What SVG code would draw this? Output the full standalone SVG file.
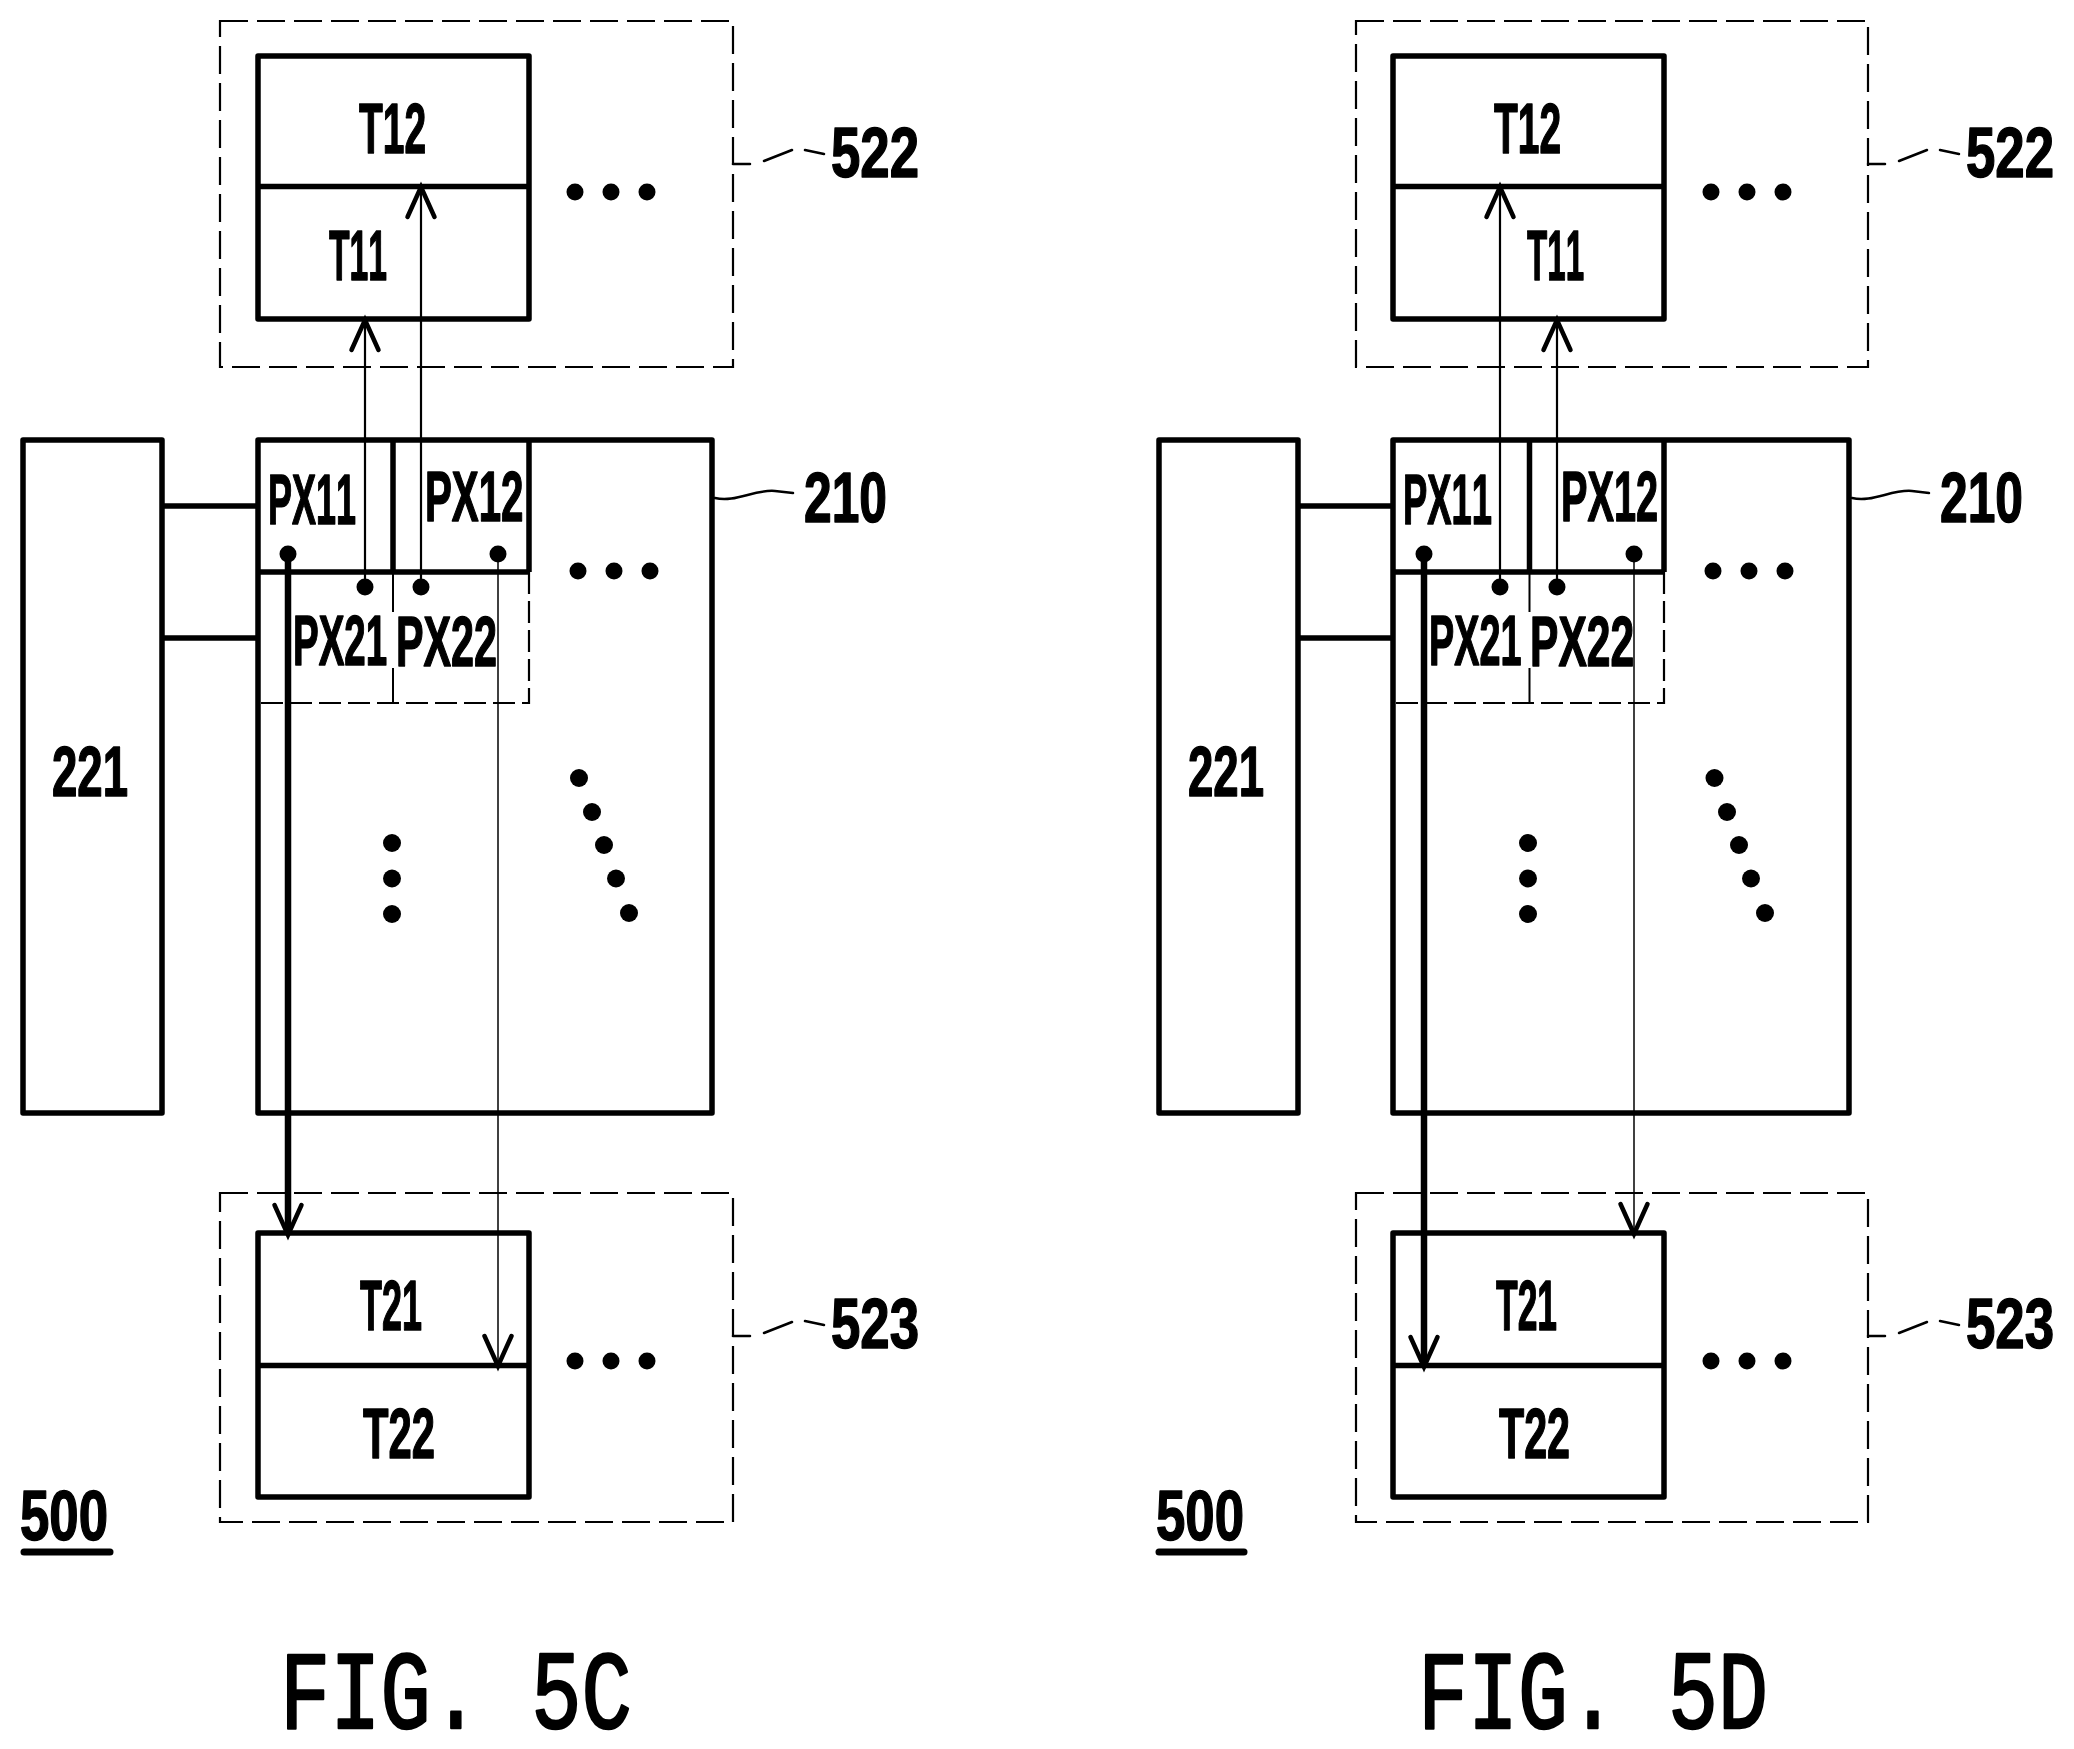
<svg xmlns="http://www.w3.org/2000/svg" width="2074" height="1749" viewBox="0 0 2074 1749">
<style>
.b{fill:none;stroke:#000;stroke-width:5.500;stroke-linejoin:round;stroke-linecap:round}
.w{fill:none;stroke:#000;stroke-width:5.500}
.d{fill:none;stroke:#000;stroke-width:2.200;stroke-dasharray:28 9}
.d2{fill:none;stroke:#000;stroke-width:2.200;stroke-dasharray:22 7}
.t{fill:none;stroke:#000;stroke-width:2}
.l{fill:none;stroke:#000;stroke-width:2.500;stroke-linecap:round}
.thin{fill:none;stroke:#000;stroke-width:2.200;marker-end:url(#a)}
.hair{fill:none;stroke:#000;stroke-width:1.500;marker-end:url(#a)}
.thick{fill:none;stroke:#000;stroke-width:6.500;marker-end:url(#a)}
text{font-family:"Liberation Sans",Arial,sans-serif;font-weight:700;font-size:70px;font-kerning:none;fill:#000;stroke:#000;stroke-width:1.500;stroke-linejoin:round}
.f{font-family:"Liberation Mono","Courier New",monospace;font-weight:400;font-size:112px;stroke-width:2.500}
</style>
<defs>
<marker id="a" markerUnits="userSpaceOnUse" markerWidth="40" markerHeight="36" refX="33" refY="18" orient="auto" overflow="visible"><path d="M3 4.500 L33 18 L3 31.500" fill="none" stroke="#000" stroke-width="4.500" stroke-linecap="round" stroke-linejoin="miter"/></marker>
<g id="v3"><circle cx="0" cy="0" r="8.500"/><circle cx="36" cy="0" r="8.500"/><circle cx="72" cy="0" r="8.500"/></g>
</defs>
<rect width="2074" height="1749" fill="#fff"/>

<g id="fig5c">
<g id="group-522-c"><rect class="d" x="220" y="21" width="513" height="346"/><path class="l" d="M733 164H750M764 161L792 150M805 150L824 154"/><text transform="translate(831 177) scale(.754 1)">522</text><use href="#v3" x="575" y="192"/></g>
<g id="t1-c"><rect class="b" x="258" y="56" width="271" height="263"/><path class="w" d="M258 186.500H529"/><text transform="translate(359 153) scale(.556 1)">T12</text><text transform="translate(329 280) scale(.481 1)">T11</text></g>
<g id="n221-c"><rect class="b" x="23" y="440" width="139" height="673"/><text transform="translate(52 796) scale(.651 1)">221</text></g>
<g id="n210-c"><rect class="b" x="258" y="440" width="454" height="673"/><path class="l" d="M715 498C735 503 755 489 775 491L793 493"/><text transform="translate(804 522) scale(.711 1)">210</text><use href="#v3" x="578" y="571"/>
<circle cx="392" cy="843" r="9"/><circle cx="392" cy="878.500" r="9"/><circle cx="392" cy="914" r="9"/>
<circle cx="579" cy="778" r="9"/><circle cx="592" cy="812" r="9"/><circle cx="604" cy="845" r="9"/><circle cx="616" cy="878.500" r="9"/><circle cx="629" cy="913" r="9"/></g>
<g id="pixels-c"><path class="w" d="M393 440V572M529 440V572M258 572H529"/><path class="d2" d="M529 572V703L258 703"/><path class="t" d="M393 572V612M393 668V703"/>
<text transform="translate(268 524) scale(.514 1)">PX11</text><text transform="translate(425 521) scale(.575 1)">PX12</text><text transform="translate(293 665) scale(.55 1)">PX21</text><text transform="translate(396 666) scale(.59 1)">PX22</text></g>
<g id="group-523-c"><rect class="d" x="220" y="1193" width="513" height="329"/><path class="l" d="M733 1336H750M764 1333L792 1322M805 1321L824 1325"/><text transform="translate(831 1348) scale(.754 1)">523</text><use href="#v3" x="575" y="1361"/></g>
<g id="t2-c"><rect class="b" x="258" y="1233" width="271" height="264"/><path class="w" d="M258 1365.500H529"/><text transform="translate(360 1330) scale(.514 1)">T21</text><text transform="translate(363 1458) scale(.597 1)">T22</text></g>
<g id="ref-c"><text transform="translate(20 1540) scale(.754 1)">500</text><path d="M24 1552H110" stroke="#000" stroke-width="7" stroke-linecap="round"/></g>
<text class="f" transform="translate(280 1728) scale(.748 1)">FIG. 5C</text>
</g>

<g id="connectors-c">
<circle cx="288" cy="554" r="8.500"/><circle cx="498" cy="554" r="8.500"/><circle cx="365" cy="587" r="8.500"/><circle cx="421" cy="587" r="8.500"/>
<path class="w" d="M162 506H258M162 638H258"/>
<path class="thin" d="M365 587V320"/><path class="thin" d="M421 587V187"/><path class="thick" d="M288 554V1235"/><path class="hair" d="M498 554V1366"/>
</g>

<g id="fig5d">
<g id="group-522-d"><rect class="d" x="1356" y="21" width="512" height="346"/><path class="l" d="M1868 164H1885M1899 161L1927 150M1940 150L1959 154"/><text transform="translate(1966 177) scale(.754 1)">522</text><use href="#v3" x="1711" y="192"/></g>
<g id="t1-d"><rect class="b" x="1393" y="56" width="271" height="263"/><path class="w" d="M1393 186.500H1664"/><text transform="translate(1494 153) scale(.556 1)">T12</text><text transform="translate(1527 280) scale(.473 1)">T11</text></g>
<g id="n221-d"><rect class="b" x="1159" y="440" width="139" height="673"/><text transform="translate(1188 796) scale(.651 1)">221</text></g>
<g id="n210-d"><rect class="b" x="1393" y="440" width="456" height="673"/><path class="l" d="M1852 498C1872 503 1892 489 1912 491L1929 493"/><text transform="translate(1940 522) scale(.711 1)">210</text><use href="#v3" x="1713" y="571"/>
<circle cx="1528" cy="843" r="9"/><circle cx="1528" cy="878.500" r="9"/><circle cx="1528" cy="914" r="9"/>
<circle cx="1714.500" cy="778" r="9"/><circle cx="1727" cy="812" r="9"/><circle cx="1739" cy="845" r="9"/><circle cx="1751" cy="878.500" r="9"/><circle cx="1765" cy="913" r="9"/></g>
<g id="pixels-d"><path class="w" d="M1529.500 440V572M1664 440V572M1393 572H1664"/><path class="d2" d="M1664 572V703L1393 703"/><path class="t" d="M1529.500 572V612M1529.500 668V703"/>
<text transform="translate(1403 524) scale(.52 1)">PX11</text><text transform="translate(1561 521) scale(.567 1)">PX12</text><text transform="translate(1429 665) scale(.54 1)">PX21</text><text transform="translate(1530 666) scale(.608 1)">PX22</text></g>
<g id="group-523-d"><rect class="d" x="1356" y="1193" width="512" height="329"/><path class="l" d="M1868 1336H1885M1899 1333L1927 1322M1940 1321L1959 1325"/><text transform="translate(1966 1348) scale(.754 1)">523</text><use href="#v3" x="1711" y="1361"/></g>
<g id="t2-d"><rect class="b" x="1393" y="1233" width="271" height="264"/><path class="w" d="M1393 1365.500H1664"/><text transform="translate(1496 1330) scale(.506 1)">T21</text><text transform="translate(1499 1458) scale(.589 1)">T22</text></g>
<g id="ref-d"><text transform="translate(1156 1540) scale(.754 1)">500</text><path d="M1159 1552H1244" stroke="#000" stroke-width="7" stroke-linecap="round"/></g>
<text class="f" transform="translate(1418 1728) scale(.744 1)">FIG. 5D</text>
</g>

<g id="connectors-d">
<circle cx="1424" cy="554" r="8.500"/><circle cx="1634" cy="554" r="8.500"/><circle cx="1500" cy="587" r="8.500"/><circle cx="1557" cy="587" r="8.500"/>
<path class="w" d="M1298 506H1393M1298 638H1393"/>
<path class="thin" d="M1500 587V187"/><path class="thin" d="M1557 587V320"/><path class="thick" d="M1424 554V1367"/><path class="hair" d="M1634 554V1234"/>
</g>
</svg>
